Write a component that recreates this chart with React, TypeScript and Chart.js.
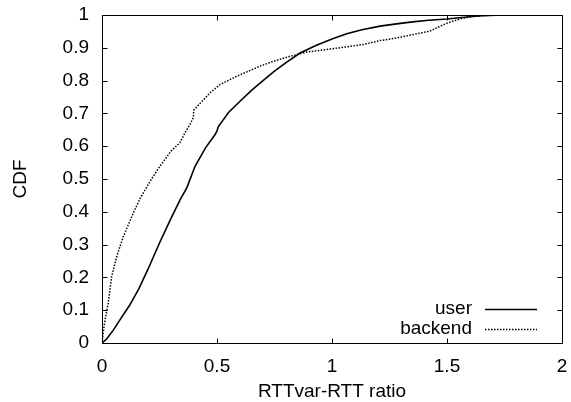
import React, { useEffect, useRef } from "react";
import { Chart, registerables } from "chart.js";

Chart.register(...registerables);

const seriesLabels = ["user", "backend"];

const userX = [0, 0.02, 0.05, 0.08, 0.12, 0.16, 0.2, 0.25, 0.3, 0.34, 0.368, 0.372, 0.404, 0.45, 0.491, 0.499, 0.506, 0.55, 0.6, 0.65, 0.7, 0.75, 0.8, 0.861, 0.93, 1.0, 1.064, 1.13, 1.209, 1.28, 1.35, 1.42, 1.5, 1.586, 1.65, 1.75, 2.0];
const userY = [0, 0.012, 0.04, 0.073, 0.115, 0.165, 0.225, 0.305, 0.38, 0.437, 0.472, 0.479, 0.538, 0.595, 0.635, 0.645, 0.66, 0.703, 0.737, 0.77, 0.8, 0.829, 0.855, 0.884, 0.907, 0.927, 0.943, 0.955, 0.966, 0.973, 0.979, 0.984, 0.988, 0.994, 0.998, 1, 1];

const backendX = [0, 0.005, 0.013, 0.027, 0.042, 0.064, 0.093, 0.136, 0.165, 0.209, 0.25, 0.3, 0.339, 0.361, 0.383, 0.397, 0.399, 0.412, 0.47, 0.513, 0.585, 0.687, 0.745, 0.817, 0.89, 0.991, 1.136, 1.209, 1.281, 1.426, 1.499, 1.557, 1.614, 1.7, 2.0];
const backendY = [0, 0.03, 0.07, 0.121, 0.203, 0.264, 0.325, 0.396, 0.44, 0.493, 0.537, 0.585, 0.611, 0.641, 0.667, 0.687, 0.71, 0.72, 0.763, 0.788, 0.813, 0.844, 0.859, 0.874, 0.887, 0.896, 0.91, 0.922, 0.93, 0.951, 0.975, 0.988, 0.996, 1, 1];

const xTickValues = [0, 0.5, 1, 1.5, 2];
const yTickValues = [0, 0.1, 0.2, 0.3, 0.4, 0.5, 0.6, 0.7, 0.8, 0.9, 1];

const FONT = "'Liberation Sans', Arial, sans-serif";

const framePlugin = {
  id: "gnuFrame",
  afterDatasetsDraw(chart: any) {
    const { ctx, chartArea } = chart;
    const xs = chart.scales.x;
    const ys = chart.scales.y;
    const L = Math.round(chartArea.left) + 0.5;
    const R = Math.round(chartArea.right) + 0.5;
    const T = Math.round(chartArea.top) + 0.5;
    const B = Math.round(chartArea.bottom) + 0.5;
    const tl = 5;
    ctx.save();
    ctx.strokeStyle = "#000";
    ctx.lineWidth = 1;
    ctx.setLineDash([]);
    ctx.beginPath();
    ctx.rect(L, T, R - L, B - T);
    for (const v of xTickValues) {
      const px = Math.round(xs.getPixelForValue(v)) + 0.5;
      ctx.moveTo(px, B);
      ctx.lineTo(px, B - tl);
      ctx.moveTo(px, T);
      ctx.lineTo(px, T + tl);
    }
    for (const v of yTickValues) {
      const py = Math.round(ys.getPixelForValue(v)) + 0.5;
      ctx.moveTo(L, py);
      ctx.lineTo(L + tl, py);
      ctx.moveTo(R, py);
      ctx.lineTo(R - tl, py);
    }
    ctx.stroke();

    // legend inside plot, bottom right
    const dsets = chart.data.datasets;
    ctx.font = `19px ${FONT}`;
    ctx.fillStyle = "#000";
    ctx.textAlign = "right";
    ctx.textBaseline = "middle";
    dsets.forEach((ds: any, i: number) => {
      const y = chartArea.bottom - 34 + i * 20;
      ctx.fillText(ds.label, chartArea.right - 90, y);
      ctx.beginPath();
      ctx.lineWidth = ds.borderWidth;
      ctx.setLineDash(ds.borderDash || []);
      ctx.strokeStyle = ds.borderColor;
      ctx.moveTo(chartArea.right - 77, Math.round(y) + 0.5);
      ctx.lineTo(chartArea.right - 25, Math.round(y) + 0.5);
      ctx.stroke();
    });
    ctx.restore();
  },
};

const zeroPad = (s: any) => {
  s.paddingLeft = 0;
  s.paddingRight = 0;
  s.paddingTop = 0;
  s.paddingBottom = 0;
};

export default function App() {
  const ref = useRef<HTMLCanvasElement | null>(null);
  useEffect(() => {
    document.body.style.margin = "0";
    const c = ref.current;
    if (!c) return;
    const chart = new Chart(c, {
      type: "scatter",
      data: {
        datasets: [
          {
            label: seriesLabels[0],
            data: userX.map((x, i) => ({ x, y: userY[i] })),
            showLine: true,
            borderColor: "#000",
            borderWidth: 1.6,
            pointRadius: 0,
            tension: 0,
          },
          {
            label: seriesLabels[1],
            data: backendX.map((x, i) => ({ x, y: backendY[i] })),
            showLine: true,
            borderColor: "#000",
            borderWidth: 1.5,
            borderDash: [1.5, 1.5],
            pointRadius: 0,
            tension: 0,
          },
        ],
      },
      options: {
        responsive: false,
        animation: false,
        layout: { padding: { top: 15, right: 9, left: 0, bottom: 0 } },
        plugins: { legend: { display: false }, tooltip: { enabled: false } },
        scales: {
          x: {
            type: "linear",
            min: 0,
            max: 2,
            afterBuildTicks: (s: any) => {
              s.ticks = xTickValues.map((v) => ({ value: v }));
            },
            afterFit: (s: any) => {
              s.height = 59;
              zeroPad(s);
            },
            grid: { display: false, drawTicks: false },
            border: { display: false },
            ticks: {
              color: "#000",
              padding: 12,
              maxRotation: 0,
              font: { family: FONT, size: 19 },
              callback: (v: any) => String(v),
            },
            title: {
              display: true,
              text: "RTTvar-RTT ratio",
              color: "#000",
              font: { family: FONT, size: 19, lineHeight: 1.1 },
              padding: 0,
            },
          },
          y: {
            type: "linear",
            min: 0,
            max: 1,
            afterBuildTicks: (s: any) => {
              s.ticks = yTickValues.map((v) => ({ value: v }));
            },
            afterFit: (s: any) => {
              s.width = 102;
              zeroPad(s);
            },
            grid: { display: false, drawTicks: false },
            border: { display: false },
            ticks: {
              color: "#000",
              padding: 13,
              font: { family: FONT, size: 19 },
              callback: (v: any) => String(Math.round(v * 10) / 10),
            },
            title: {
              display: true,
              text: "CDF",
              color: "#000",
              font: { family: FONT, size: 19 },
              padding: 9,
            },
          },
        },
      },
      plugins: [framePlugin],
    } as any);
    return () => chart.destroy();
  }, []);
  return (
    <div style={{ width: 571, height: 402 }}>
      <canvas ref={ref} width={571} height={402} />
    </div>
  );
}
